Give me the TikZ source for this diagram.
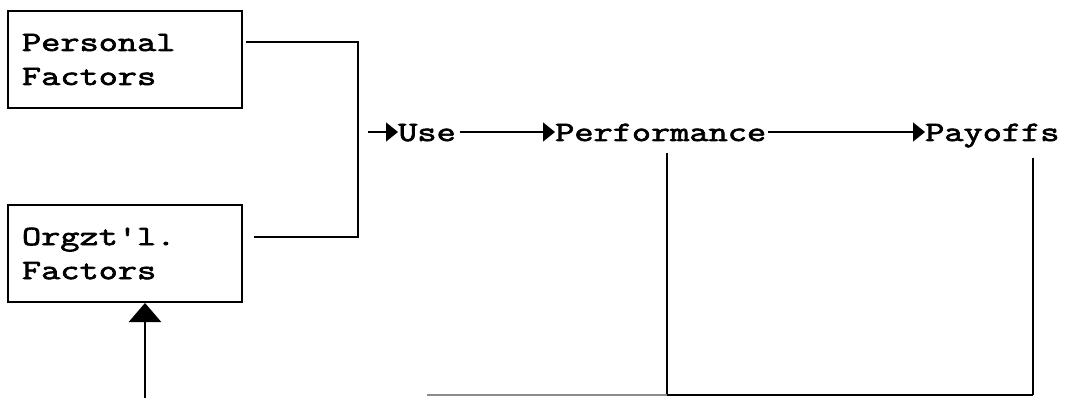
\documentclass[tikz,border=0pt]{standalone}
\usepackage{fontspec}
\newfontfamily\diagmono{Latin Modern Mono}[FakeStretch=1.33, FakeBold=2.5]
\usetikzlibrary{arrows.meta}
\begin{document}
\begin{tikzpicture}[x=1pt,y=-1pt,
  lbl/.style={font=\fontsize{28}{34}\selectfont\diagmono, inner sep=0pt},
  box/.style={lbl, draw, line width=2pt, minimum width=234pt, minimum height=97pt,
    inner xsep=14pt, text width=206pt, align=left},
  conn/.style={line width=1.6pt},
  vline/.style={line width=2.4pt},
  arr/.style={conn, -{Triangle[length=12pt,width=19pt]}},
  bigarr/.style={line width=2.8pt, -{Triangle[length=19pt,width=32pt]}},
  faint/.style={line width=1.2pt, black!45}]
\fill[white] (0,0) rectangle (1067,398);
\useasboundingbox (0,0) rectangle (1067,398);

\node[box] (pf) at (125,59.5) {Personal\\Factors};
\node[box] (oz) at (125,253.5) {Orgzt'l.\\Factors};

\node[lbl, anchor=base west] (use) at (398,141) {Use};
\node[lbl, anchor=base west] (perf) at (555,141) {Performance};
\node[lbl, anchor=base west] (pay) at (925,141) {Payoffs};

\coordinate (junc) at (358,132);
\coordinate (bl) at (427,395);
\coordinate (pb) at (667,395);
\coordinate (yb) at (1033,395);
\coordinate (src) at (145,398);

% factors to junction
\draw[conn] ([shift={(3pt,17.5pt)}]pf.east) -| (junc) |- ([shift={(11pt,16.5pt)}]oz.east);
% junction to Use
\draw[arr] ([xshift=10pt]junc) -- ([yshift=9pt]use.base west);
\draw[arr] ([shift={(4pt,9pt)}]use.base east) -- ([yshift=9pt]perf.base west);
\draw[arr] ([shift={(2pt,9pt)}]perf.base east) -- ([yshift=9pt]pay.base west);

% feedback lines
\draw[vline] (perf.south -| pb) ++(0,-12pt) coordinate (pt) (pt) -- (pb);
\draw[vline] (pay.south -| yb) ++(0,-10pt) coordinate (yt) (yt) -- (yb);
\draw[vline] (pb) -- (yb);
\draw[faint] (bl) -- (pb);

% arrow into Orgzt'l. Factors
\draw[bigarr] (src) -- (oz.south -| src);
\end{tikzpicture}
\end{document}
